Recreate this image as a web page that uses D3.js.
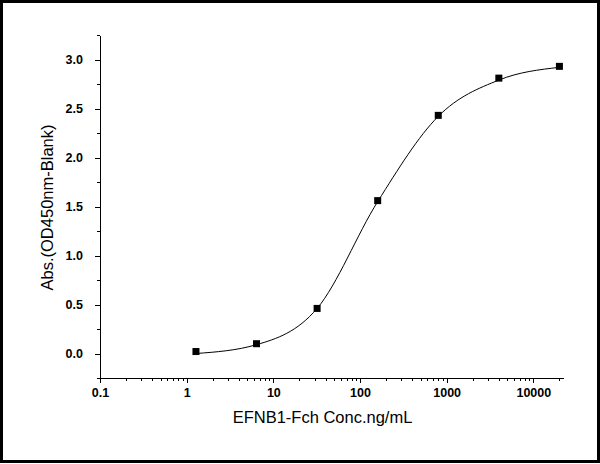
<!DOCTYPE html>
<html>
<head>
<meta charset="utf-8">
<script src="https://cdn.jsdelivr.net/npm/d3@7"></script>
<style>
  body { margin: 0; background: #fff; }
  svg { display: block; }
  .axis path, .axis line { stroke: #000; stroke-width: 1; shape-rendering: crispEdges; }
  .axis text { font-family: Arial, "Liberation Sans", sans-serif; font-size: 12.5px; font-weight: bold; fill: #000; }
  .title { font-family: Arial, "Liberation Sans", sans-serif; font-size: 16.5px; fill: #000; }
</style>
</head>
<body>
<div id="chart"></div>
<script>
// Data
var concentrations = [1.28, 6.4, 32, 160, 800, 4000, 20000];
var absorbance = [0.02, 0.10, 0.46, 1.56, 2.43, 2.81, 2.93];
// fitted curve as drawn in the reference, at the same concentrations
var fitValues = [0.00, 0.09, 0.46, 1.55, 2.42, 2.79, 2.92];

var xMajorTicks = [0.1, 1, 10, 100, 1000, 10000];
var xMinorTicks = [0.2, 0.3, 0.4, 0.5, 0.6, 0.7, 0.8, 0.9,
  2, 3, 4, 5, 6, 7, 8, 9, 20, 30, 40, 50, 60, 70, 80, 90,
  200, 300, 400, 500, 600, 700, 800, 900,
  2000, 3000, 4000, 5000, 6000, 7000, 8000, 9000, 20000];
var yMajorTicks = [0, 0.5, 1, 1.5, 2, 2.5, 3];
var yMinorTicks = [-0.25, 0.25, 0.75, 1.25, 1.75, 2.25, 2.75, 3.25];

var xLabel = "EFNB1-Fch Conc.ng/mL";
var yLabel = "Abs.(OD450nm-Blank)";

// Dimensions
var width = 600;
var height = 464;
var margin = { top: 35, right: 37, bottom: 86, left: 100 };
var chartW = width - margin.left - margin.right;
var chartH = height - margin.top - margin.bottom;

var svg = d3.select("#chart").append("svg")
  .attr("width", width)
  .attr("height", height);

// outer frame
svg.append("rect")
  .attr("x", 1.5).attr("y", 1.5)
  .attr("width", 597).attr("height", 460)
  .attr("fill", "none")
  .attr("stroke", "#000")
  .attr("stroke-width", 3);

var chart = svg.append("g")
  .attr("transform", "translate(" + margin.left + "," + margin.top + ")");

// Scales
var xScale = d3.scaleLog()
  .domain([0.1, 22000])
  .range([0, chartW]);

var yScale = d3.scaleLinear()
  .domain([-0.25, 3.25])
  .range([chartH, 0]);

// X axis (major + minor)
chart.append("g").classed("axis", true)
  .attr("transform", "translate(0," + chartH + ")")
  .call(d3.axisBottom(xScale)
    .tickValues(xMajorTicks)
    .tickFormat(function(d) { return d3.format("")(d); })
    .tickSize(5).tickSizeOuter(0).tickPadding(5));

chart.append("g").classed("axis", true)
  .attr("transform", "translate(0," + chartH + ")")
  .call(d3.axisBottom(xScale)
    .tickValues(xMinorTicks)
    .tickFormat("")
    .tickSize(3).tickSizeOuter(0));

// Y axis (major + minor)
chart.append("g").classed("axis", true)
  .call(d3.axisLeft(yScale)
    .tickValues(yMajorTicks)
    .tickFormat(d3.format(".1f"))
    .tickSize(5).tickSizeOuter(0).tickPadding(12));

chart.append("g").classed("axis", true)
  .call(d3.axisLeft(yScale)
    .tickValues(yMinorTicks)
    .tickFormat("")
    .tickSize(3).tickSizeOuter(0));

// Fitted curve
var line = d3.line()
  .x(function(d, i) { return xScale(concentrations[i]); })
  .y(function(d) { return yScale(d); })
  .curve(d3.curveMonotoneX);

chart.append("path")
  .datum(fitValues)
  .attr("d", line)
  .attr("fill", "none")
  .attr("stroke", "#000")
  .attr("stroke-width", 1);

// Points
var size = 7;
chart.append("g").selectAll("rect")
  .data(absorbance)
  .enter().append("rect")
  .attr("x", function(d, i) { return xScale(concentrations[i]) - size / 2; })
  .attr("y", function(d) { return yScale(d) - size / 2; })
  .attr("width", size)
  .attr("height", size)
  .attr("fill", "#000");

// Axis titles
chart.append("text").classed("title", true)
  .attr("x", chartW / 2 - 9)
  .attr("y", chartH + 45)
  .attr("text-anchor", "middle")
  .text(xLabel);

chart.append("text").classed("title", true)
  .attr("transform", "translate(" + (-47) + "," + (chartH / 2 + 1) + ") rotate(-90)")
  .attr("text-anchor", "middle")
  .text(yLabel);
</script>
</body>
</html>
